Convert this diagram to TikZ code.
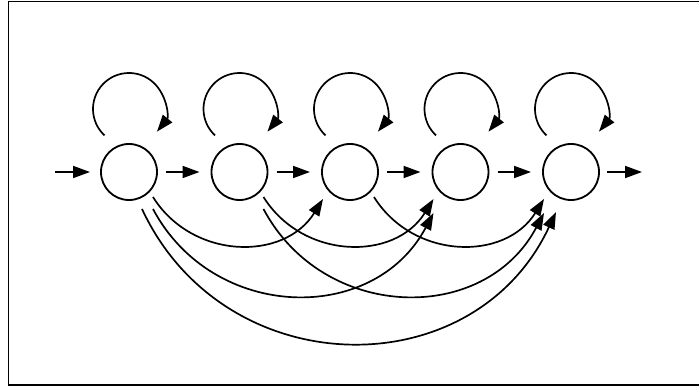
\documentclass[tikz,border=0pt]{standalone}
\usetikzlibrary{arrows.meta,calc}
\begin{document}
\begin{tikzpicture}[x=0.025cm,y=0.025cm,
  state/.style={circle,draw,line width=1.3pt,minimum size=1.4cm,inner sep=0pt},
  conn/.style={line width=1.2pt,-{Triangle[length=12pt,width=8.5pt]}},
  frame/.style={line width=1.4pt}]
\useasboundingbox (0,0) rectangle (699,389);
\draw[frame] (699,387.5) -- (8.5,387.5) -- (8.5,4) -- (699,4);
% states
\node[state] (c1) at (129,217) {};
\node[state] (c2) at (239.5,217) {};
\node[state] (c3) at (350,217) {};
\node[state] (c4) at (460.5,217) {};
\node[state] (c5) at (571,217) {};
% free ends
\coordinate (inp) at ($(c1)+(-74,0)$);
\coordinate (outp) at ($(c5)+(71,0)$);
% horizontal arrows
\draw[conn] (inp) -- ($(c1)+(-39,0)$);
\foreach \a/\b in {c1/c2,c2/c3,c3/c4,c4/c5}
  \draw[conn] ($(\a)+(37,0)$) -- ($(\b)+(-40,0)$);
\draw[conn] ($(c5)+(36,0)$) -- (outp);
% self loops
\foreach \n in {c1,c2,c3,c4,c5}
  \draw[conn] ($(\n)+(0,63)+(227:36)$) arc[start angle=227,end angle=-39,radius=36];
% skip by two
\foreach \a/\b in {c1/c3,c2/c4,c3/c5}
  \draw[conn] ($(\a)+(24,-25)$) to[out=-58,in=-122,looseness=1.11] ($(\b)+(-27,-27)$);
% skip by three
\foreach \a/\b in {c1/c4,c2/c5}
  \draw[conn] ($(\a)+(24,-37)$) to[out=-62,in=-118,looseness=1.16] ($(\b)+(-27,-41)$);
% skip by four
\draw[conn] ($(c1)+(13,-37)$) to[out=-65,in=-115,looseness=1.2] ($(c5)+(-15,-40)$);
\end{tikzpicture}
\end{document}
